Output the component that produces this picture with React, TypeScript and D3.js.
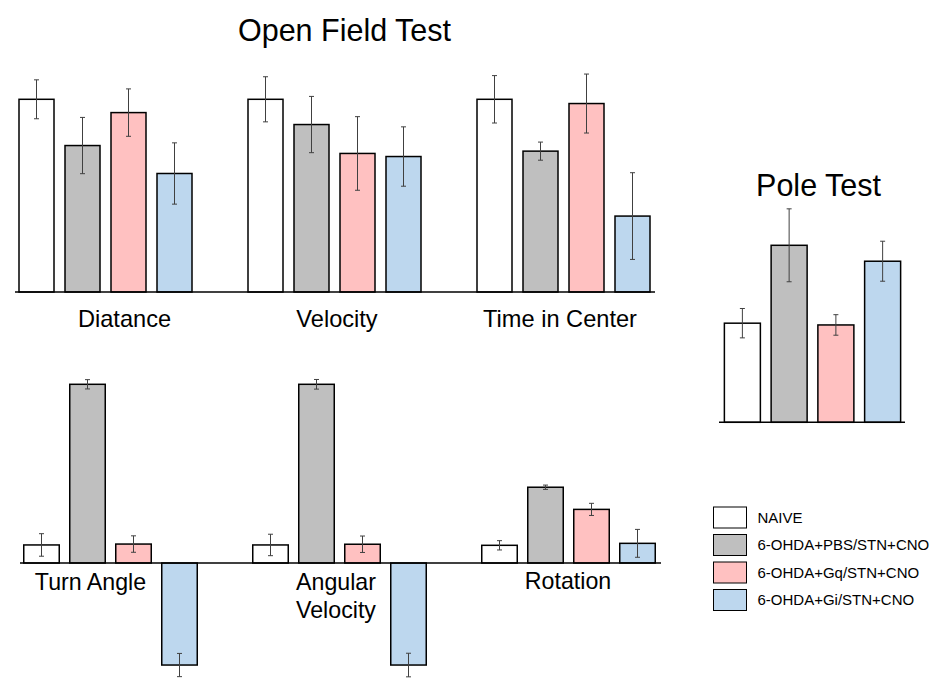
import React from "react";
import * as d3 from "d3";

// ---------- data ----------
const groups = ["NAIVE", "6-OHDA+PBS/STN+CNO", "6-OHDA+Gq/STN+CNO", "6-OHDA+Gi/STN+CNO"];
const groupColors = ["#ffffff", "#bfbfbf", "#ffc1c1", "#bdd7ee"];

const openFieldMeasures = ["Diatance", "Velocity", "Time in Center"];
const diatanceMean = [100, 76.0, 93.1, 61.5];
const diatanceErr = [10.1, 14.6, 12.3, 15.9];
const velocityMean = [100, 86.9, 71.9, 70.3];
const velocityErr = [11.7, 14.6, 19.1, 15.4];
const timeCenterMean = [100, 73.1, 97.8, 39.4];
const timeCenterErr = [12.3, 4.7, 15.3, 22.5];

const poleMean = [5.6, 10.0, 5.5, 9.1];
const poleErr = [0.83, 2.06, 0.58, 1.13];

const turnMeasures = ["Turn Angle", "Angular Velocity", "Rotation"];
const turnAngleMean = [10.1, 100, 10.6, -57.1];
const turnAngleErr = [6.3, 2.6, 4.6, 6.5];
const angularVelocityMean = [10.1, 100, 10.5, -57.1];
const angularVelocityErr = [6.0, 2.7, 4.6, 6.6];
const rotationMean = [9.9, 42.4, 30.0, 11.0];
const rotationErr = [2.6, 1.2, 3.4, 7.8];

// ---------- layout ----------
const FONT = "'Liberation Sans', Arial, sans-serif";
const W = 940;
const H = 694;

type Series = { mean: number[]; err: number[] };

function Bars({
  xGroup,
  xInner,
  y,
  measures,
  series,
}: {
  xGroup: d3.ScaleBand<string>;
  xInner: d3.ScaleBand<string>;
  y: d3.ScaleLinear<number, number>;
  measures: string[];
  series: Series[];
}) {
  const cap = 2.5;
  return (
    <g>
      {measures.map((m, mi) => (
        <g key={m} transform={`translate(${xGroup(m)},0)`}>
          {groups.map((g, gi) => {
            const v = series[mi].mean[gi];
            const e = series[mi].err[gi];
            const x0 = xInner(g)!;
            const bw = xInner.bandwidth();
            const y0 = y(0);
            const y1 = y(v);
            const cx = x0 + bw / 2;
            return (
              <g key={g}>
                <rect
                  x={x0}
                  y={Math.min(y0, y1)}
                  width={bw}
                  height={Math.abs(y1 - y0)}
                  fill={groupColors[gi]}
                  stroke="#000"
                  strokeWidth={1.5}
                />
                <line x1={cx} x2={cx} y1={y(v - e)} y2={y(v + e)} stroke="#404040" strokeWidth={1} />
                <line x1={cx - cap} x2={cx + cap} y1={y(v - e)} y2={y(v - e)} stroke="#404040" strokeWidth={1} />
                <line x1={cx - cap} x2={cx + cap} y1={y(v + e)} y2={y(v + e)} stroke="#404040" strokeWidth={1} />
              </g>
            );
          })}
        </g>
      ))}
    </g>
  );
}

export default function App() {
  // inner band: step 46, bar 35
  const xInner = d3
    .scaleBand<string>()
    .domain(groups)
    .range([0, 184])
    .paddingInner(11 / 46)
    .paddingOuter(5.5 / 46);

  // Open field test
  const xTop = d3.scaleBand<string>().domain(openFieldMeasures).range([13.5, 13.5 + 229 * 3]).padding(0);
  const yTop = d3.scaleLinear().domain([0, 100]).range([292, 99.3]);
  const topSeries: Series[] = [
    { mean: diatanceMean, err: diatanceErr },
    { mean: velocityMean, err: velocityErr },
    { mean: timeCenterMean, err: timeCenterErr },
  ];

  // Pole test
  const xPole = d3.scaleBand<string>().domain(["Pole"]).range([719, 906]).padding(0);
  const xPoleInner = d3
    .scaleBand<string>()
    .domain(groups)
    .range([0, 187])
    .paddingInner(0.23)
    .paddingOuter(0.115);
  const yPole = d3.scaleLinear().domain([0, 10]).range([422.3, 245.3]);

  // Turning
  const xBot = d3.scaleBand<string>().domain(turnMeasures).range([18.5, 18.5 + 229 * 3]).padding(0);
  const xBotInner = d3
    .scaleBand<string>()
    .domain(groups)
    .range([0, 184])
    .paddingInner(10.5 / 46)
    .paddingOuter(5.25 / 46);
  const yBot = d3.scaleLinear().domain([0, 100]).range([563, 384.3]);
  const botSeries: Series[] = [
    { mean: turnAngleMean, err: turnAngleErr },
    { mean: angularVelocityMean, err: angularVelocityErr },
    { mean: rotationMean, err: rotationErr },
  ];

  const topLabelX = [124.5, 337, 560];
  const botLabelX = [90.5, 336, 568];

  return (
    <svg
      width={W}
      height={H}
      style={{ position: "absolute", left: 0, top: 0, background: "#fff" }}
      fontFamily={FONT}
    >
      <rect x={0} y={0} width={W} height={H} fill="#fff" />
      {/* Open field */}
      <text x={344.5} y={41} fontSize={30.5} textAnchor="middle" fill="#000">
        Open Field Test
      </text>
      <Bars xGroup={xTop} xInner={xInner} y={yTop} measures={openFieldMeasures} series={topSeries} />
      <line x1={15} x2={655} y1={yTop(0)} y2={yTop(0)} stroke="#000" strokeWidth={1.5} />
      {openFieldMeasures.map((m, i) => (
        <text key={m} x={topLabelX[i]} y={327} fontSize={23.6} textAnchor="middle" fill="#000">
          {m}
        </text>
      ))}

      {/* Pole test */}
      <text x={818.5} y={196} fontSize={30.5} textAnchor="middle" fill="#000">
        Pole Test
      </text>
      <Bars
        xGroup={xPole}
        xInner={xPoleInner}
        y={yPole}
        measures={["Pole"]}
        series={[{ mean: poleMean, err: poleErr }]}
      />
      <line x1={719} x2={905} y1={yPole(0)} y2={yPole(0)} stroke="#000" strokeWidth={1.5} />

      {/* Turning */}
      <Bars xGroup={xBot} xInner={xBotInner} y={yBot} measures={turnMeasures} series={botSeries} />
      <line x1={20} x2={661} y1={yBot(0)} y2={yBot(0)} stroke="#000" strokeWidth={1.5} />
      <text x={botLabelX[0]} y={590} fontSize={23.2} textAnchor="middle" fill="#000">
        Turn Angle
      </text>
      <text x={botLabelX[1]} y={590} fontSize={23.2} textAnchor="middle" fill="#000">
        <tspan x={botLabelX[1]} dy={0}>Angular</tspan>
        <tspan x={botLabelX[1]} dy={28}>Velocity</tspan>
      </text>
      <text x={botLabelX[2]} y={589} fontSize={23.2} textAnchor="middle" fill="#000">
        Rotation
      </text>

      {/* Legend */}
      {groups.map((g, i) => (
        <g key={g} transform={`translate(713.5,${507 + i * 27.5})`}>
          <rect x={0} y={0} width={33} height={21} fill={groupColors[i]} stroke="#000" strokeWidth={1} />
          <text x={44} y={15.5} fontSize={15} fill="#000">
            {g}
          </text>
        </g>
      ))}
    </svg>
  );
}
